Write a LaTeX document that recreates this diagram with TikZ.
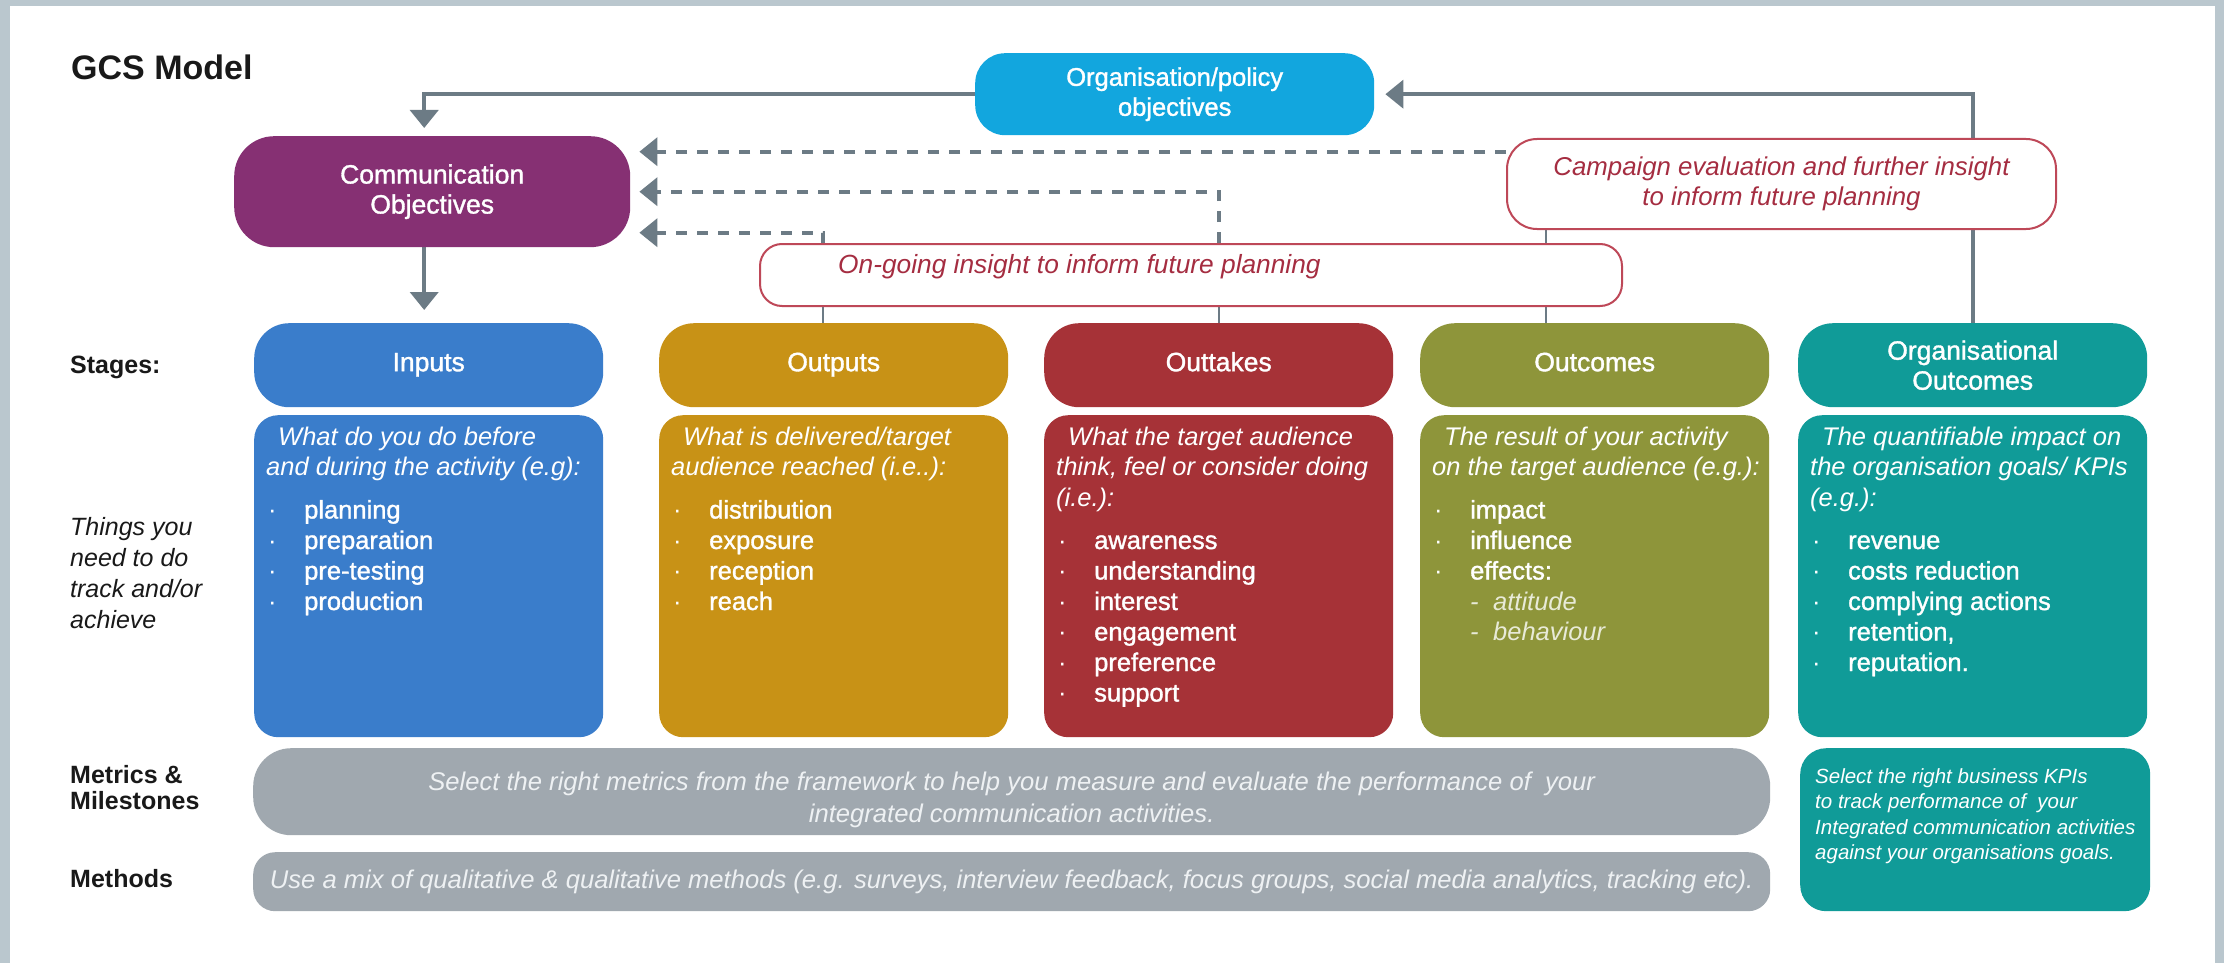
\documentclass[tikz,border=0pt]{standalone}
\usepackage{fontspec}
\setmainfont{Liberation Sans}
\newfontfamily\medfont{Liberation Sans}[RawFeature={embolden=1.3}]
\usetikzlibrary{arrows.meta,backgrounds}

\definecolor{slidegray}{RGB}{186,199,206}
\definecolor{policyblue}{RGB}{18,166,222}
\definecolor{commpurple}{RGB}{134,48,115}
\definecolor{inputblue}{RGB}{58,125,203}
\definecolor{outputgold}{RGB}{200,146,22}
\definecolor{outtakered}{RGB}{166,50,55}
\definecolor{outcomeolive}{RGB}{142,149,58}
\definecolor{orgteal}{RGB}{16,155,152}
\definecolor{bargray}{RGB}{160,168,175}
\definecolor{bartext}{RGB}{238,241,243}
\definecolor{linkgray}{RGB}{108,123,133}
\definecolor{insightred}{RGB}{190,72,88}
\definecolor{insighttext}{RGB}{165,45,65}

\newcommand\bodyfont{\fontsize{25.5}{30.5}\selectfont}
\newcommand\titlefont{\medfont\fontsize{26.5}{30}\selectfont}
\newcommand\dotitem[1]{\makebox[38pt][l]{\hspace{2pt}·}{\medfont #1}}
\newcommand\effectitem[1]{\hspace{38pt}\makebox[23pt][l]{-}#1}

\tikzset{
    stage box/.style={fill=#1, rounded corners=35pt, minimum width=349pt,
        minimum height=84pt, anchor=north west, inner sep=0pt,
        text=white, font=\titlefont, align=center},
    info box/.style={fill=#1, rounded corners=24pt, minimum width=349pt,
        minimum height=322pt, anchor=north west, inner sep=0pt},
    info text/.style={text=white, font=\bodyfont, align=left,
        anchor=base west, inner sep=0pt},
    insight box/.style={draw=insightred, line width=2pt, fill=white,
        rounded corners=#1, anchor=north west, inner sep=0pt},
    bar box/.style={fill=#1, anchor=north west, inner sep=0pt},
    side label/.style={anchor=base west, inner sep=0pt, font=\bodyfont,
        text=black!90, align=left},
    flow/.style={draw=linkgray, line width=4pt,
        -{Triangle[width=28pt,length=18pt]}},
    feedback/.style={flow, dash pattern=on 11pt off 10pt},
    link/.style={draw=linkgray, line width=2pt}
}

\begin{document}
\begin{tikzpicture}[x=1pt,y=-1pt]
        \useasboundingbox (0,0) rectangle (2224,963);
        \begin{scope}[on background layer]
            \fill[slidegray] (0,0) rectangle (2224,963);
            \fill[white] (10,6) rectangle (2215,963);
        \end{scope}

        % multi-line nodes sit on the baseline of their last line
        \node[side label, font=\bfseries\fontsize{34}{38}\selectfont] (title) at (71,80) {GCS Model};
        \node[side label, font=\bfseries\fontsize{25}{30}\selectfont] (stages) at (70,373) {Stages:};
        \node[side label, font=\itshape\fontsize{25}{31}\selectfont] (things) at (70,628)
            {Things you\\need to do\\track and/or\\achieve};
        \node[side label, font=\bfseries\fontsize{25}{26}\selectfont] (metricslabel) at (70,809)
            {Metrics \&\\Milestones};
        \node[side label, font=\bfseries\fontsize{25}{30}\selectfont] (methodslabel) at (70,887) {Methods};

        \node[bar box=policyblue, rounded corners=30pt, minimum width=399pt, minimum height=82pt,
            text=white, font=\medfont\fontsize{25.5}{30}\selectfont, align=center] (policy) at (975,53)
            {Organisation/policy\\objectives};
        \node[bar box=commpurple, rounded corners=40pt, minimum width=396pt, minimum height=111pt,
            text=white, font=\titlefont, align=center] (commobj) at (234,136)
            {Communication\\Objectives};
        \node[insight box=30pt, minimum width=549pt, minimum height=90pt, text=insighttext,
            font=\fontsize{25.8}{30}\selectfont\itshape, align=center] (campaign) at (1506,138)
            {Campaign evaluation and further insight\\to inform future planning};
        \node[insight box=22pt, minimum width=862pt, minimum height=62pt] (ongoing) at (759,243) {};
        \node[anchor=base west, inner sep=0pt, text=insighttext,
            font=\fontsize{26.3}{30}\selectfont\itshape] (ongoingtext) at (838,273)
            {On-going insight to inform future planning};

        \node[stage box=inputblue] (inputs) at (254,323) {\strut Inputs};
        \node[stage box=outputgold] (outputs) at (659,323) {\strut Outputs};
        \node[stage box=outtakered] (outtakes) at (1044,323) {\strut Outtakes};
        \node[stage box=outcomeolive] (outcomes) at (1420,323) {\strut Outcomes};
        \node[stage box=orgteal] (orgout) at (1798,323) {Organisational\\Outcomes};

        \node[info box=inputblue] (inputsinfo) at (254,415) {};
        \node[info box=outputgold] (outputsinfo) at (659,415) {};
        \node[info box=outtakered] (outtakesinfo) at (1044,415) {};
        \node[info box=outcomeolive] (outcomesinfo) at (1420,415) {};
        \node[info box=orgteal] (orgoutinfo) at (1798,415) {};

        \node[info text] (inputstext) at (266,610)
            {\hspace{12pt}\textit{What do you do before}\\
             \textit{and during the activity (e.g):}\\[12.5pt]
             \dotitem{planning}\\ \dotitem{preparation}\\
             \dotitem{pre-testing}\\ \dotitem{production}};
        \node[info text] (outputstext) at (671,610)
            {\hspace{12pt}\textit{What is delivered/target}\\
             \textit{audience reached (i.e..):}\\[12.5pt]
             \dotitem{distribution}\\ \dotitem{exposure}\\
             \dotitem{reception}\\ \dotitem{reach}};
        \node[info text] (outtakestext) at (1056,701.5)
            {\hspace{12pt}\textit{What the target audience}\\
             \textit{think, feel or consider doing}\\
             \textit{(i.e.):}\\[12.5pt]
             \dotitem{awareness}\\ \dotitem{understanding}\\
             \dotitem{interest}\\ \dotitem{engagement}\\
             \dotitem{preference}\\ \dotitem{support}};
        \node[info text] (outcomestext) at (1432,640.5)
            {\hspace{12pt}\textit{The result of your activity}\\
             \textit{on the target audience (e.g.):}\\[12.5pt]
             \dotitem{impact}\\ \dotitem{influence}\\ \dotitem{effects:}\\
             \textcolor{white!80!outcomeolive}{\itshape\effectitem{attitude}}\\
             \textcolor{white!80!outcomeolive}{\itshape\effectitem{behaviour}}};
        \node[info text] (orgouttext) at (1810,671)
            {\hspace{12pt}\textit{The quantifiable impact on}\\
             \textit{the organisation goals/ KPIs}\\
             \textit{(e.g.):}\\[12.5pt]
             \dotitem{revenue}\\ \dotitem{costs reduction}\\
             \dotitem{complying actions}\\ \dotitem{retention,}\\
             \dotitem{reputation.}};

        \node[bar box=bargray, rounded corners=38pt, minimum width=1517pt, minimum height=87pt,
            text=bartext, font=\fontsize{25.6}{32}\selectfont\itshape, align=center] (metrics) at (253,748)
            {\rule{0pt}{35pt}Select the right metrics from the framework to help you measure and evaluate the performance of\ \ your\\
             integrated communication activities.};
        \node[bar box=bargray, rounded corners=22pt, minimum width=1517pt, minimum height=59pt,
            text=bartext, font=\fontsize{25.6}{30}\selectfont\itshape] (methods) at (253,852)
            {Use a mix of qualitative \& qualitative methods (e.g. surveys, interview feedback, focus groups, social media analytics, tracking etc).};
        \node[bar box=orgteal, rounded corners=26pt, minimum width=350pt, minimum height=163pt] (kpis) at (1800,748) {};
        \node[info text, font=\fontsize{20.5}{25.5}\selectfont\itshape] (kpistext) at (1815,859.5)
            {Select the right business KPIs\\to track performance of\ \ your\\
             Integrated communication activities\\against your organisations goals.};

        \coordinate (fb top) at ([yshift=40pt]commobj.east);
        \coordinate (fb low) at ([yshift=-41pt]commobj.east);
        \coordinate (comm in) at ([xshift=-8pt]commobj.north);
        \coordinate (comm out) at ([xshift=-8pt]commobj.south);
        \coordinate (out tap) at ([xshift=-10.5pt]outputs.north);
        \coordinate (result tap) at ([xshift=-48.5pt]outcomes.north);

        \begin{scope}[on background layer]
            \draw[flow, shorten >=8pt] (policy.west) -| (comm in);
            \draw[flow, shorten >=13pt] (comm out) -- (comm out |- inputs.north);
            \draw[flow, shorten >=11pt] (orgout.north) |- (policy.east);
            \draw[feedback, shorten >=9pt] (fb top -| campaign.west) -- (fb top);
            \draw[feedback, shorten >=9pt] (outtakes.north |- ongoing.north) |- (commobj.east);
            \draw[feedback, shorten >=9pt] (out tap |- ongoing.north) |- (fb low);
            \draw[link] (out tap) -- (out tap |- ongoing.south);
            \draw[link] (outtakes.north) -- (outtakes.north |- ongoing.south);
            \draw[link] (result tap) -- (result tap |- campaign.south);
        \end{scope}
    \end{tikzpicture}
\end{document}
